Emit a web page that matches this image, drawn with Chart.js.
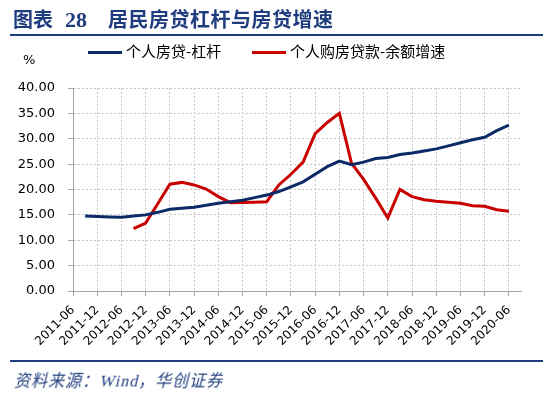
<!DOCTYPE html>
<html>
<head>
<meta charset="utf-8">
<script src="https://cdn.jsdelivr.net/npm/chart.js@4"></script>
<style>
    html, body { margin: 0; padding: 0; background: #fff; }
    #wrap { position: relative; width: 550px; height: 393px; overflow: hidden; }
    #chart { position: absolute; left: 0; top: 0; }
    .title { position: absolute; top: 4px; left: 13px; font: bold 20px "Noto Sans CJK SC"; color: #1f3c7e; white-space: nowrap; }
    .title .num { font-family: "Liberation Serif"; font-size: 22px; margin-left: 12px; }
    .title .txt { position: absolute; left: 95px; top: 0; letter-spacing: 0.5px; }
    .rule { position: absolute; left: 10px; width: 533px; height: 2px; background: #1f3c7e; }
    .legend { position: absolute; top: 40px; font: 15px "Noto Sans CJK SC"; color: #000; white-space: nowrap; }
    .legend i { display: inline-block; width: 34px; height: 3px; vertical-align: middle; margin-right: 4px; position: relative; top: 0; }
    .pct { position: absolute; left: 23px; top: 52px; font: 13px "DejaVu Sans"; color: #000; }
    .source { position: absolute; left: 13px; top: 367px; font: 16px "Liberation Serif", "Noto Sans CJK SC"; letter-spacing: 1px; color: #1f3c7e; transform: skewX(-14deg); transform-origin: left bottom; }
</style>
</head>
<body>
<div id="wrap">
    <canvas id="chart" width="550" height="393"></canvas>
    <div class="title">图表<span class="num">28</span><span class="txt">居民房贷杠杆与房贷增速</span></div>
    <div class="rule" style="top:34px"></div>
    <div class="legend" style="left:88px"><i style="background:#0b2a66"></i>个人房贷-杠杆</div>
    <div class="legend" style="left:252px"><i style="background:#c80000"></i>个人购房贷款-余额增速</div>
    <div class="pct">%</div>
    <div class="rule" style="top:360px"></div>
    <div class="source">资料来源：Wind，华创证券</div>
</div>
<script>
// quarterly categories, labelled every half year
const quarters = [
    '2011-06', '2011-09', '2011-12', '2012-03', '2012-06', '2012-09', '2012-12', '2013-03',
    '2013-06', '2013-09', '2013-12', '2014-03', '2014-06', '2014-09', '2014-12', '2015-03',
    '2015-06', '2015-09', '2015-12', '2016-03', '2016-06', '2016-09', '2016-12', '2017-03',
    '2017-06', '2017-09', '2017-12', '2018-03', '2018-06', '2018-09', '2018-12', '2019-03',
    '2019-06', '2019-09', '2019-12', '2020-03', '2020-06', '2020-09'
];
const lastLabelIndex = 36;

const leverage = [
    null, 14.8, 14.7, 14.6, 14.55, 14.8, 15.0, 15.5,
    16.1, 16.3, 16.5, 16.9, 17.3, 17.6, 17.9, 18.4,
    18.9, 19.6, 20.5, 21.5, 23.0, 24.5, 25.6, 24.9,
    25.4, 26.1, 26.3, 26.9, 27.2, 27.6, 28.0, 28.6,
    29.2, 29.8, 30.3, 31.6, 32.7, null
];

const loanGrowth = [
    null, null, null, null, null, 12.3, 13.4, 17.2,
    21.05, 21.4, 20.9, 20.1, 18.6, 17.4, 17.45, 17.5,
    17.6, 20.9, 23.0, 25.4, 31.0, 33.2, 35.0, 25.2,
    22.0, 18.3, 14.4, 20.0, 18.6, 18.0, 17.7, 17.5,
    17.3, 16.8, 16.7, 16.0, 15.7, null
];

const yTicks = [0, 5, 10, 15, 20, 25, 30, 35, 40];

const gridColor = '#c8c8c8';
const axisColor = '#a6a6a6';

function shownTick(i) {
    return i % 2 === 0 && i <= lastLabelIndex;
}

new Chart(document.getElementById('chart'), {
    type: 'line',
    data: {
        labels: quarters,
        datasets: [
            {
                label: '个人房贷-杠杆',
                data: leverage,
                borderColor: '#0b2a66',
                borderWidth: 3,
                pointRadius: 0,
                tension: 0
            },
            {
                label: '个人购房贷款-余额增速',
                data: loanGrowth,
                borderColor: '#c80000',
                borderWidth: 3,
                pointRadius: 0,
                tension: 0
            }
        ]
    },
    options: {
        responsive: false,
        devicePixelRatio: 1,
        animation: false,
        layout: { padding: { left: 0, right: 29, top: 88, bottom: 40 } },
        plugins: {
            legend: { display: false },
            tooltip: { enabled: false }
        },
        scales: {
            x: {
                offset: false,
                afterFit: (scale) => { scale.height = 62; },
                border: { color: axisColor, width: 1, dash: [2, 2] },
                grid: {
                    color: (ctx) => shownTick(ctx.index) ? gridColor : 'rgba(0,0,0,0)',
                    tickColor: (ctx) => shownTick(ctx.index) ? axisColor : 'rgba(0,0,0,0)',
                    tickBorderDash: [],
                    tickLength: 5
                },
                ticks: {
                    autoSkip: false,
                    maxRotation: 45,
                    minRotation: 45,
                    padding: 7,
                    color: '#000',
                    font: { family: 'DejaVu Sans', size: 12 },
                    callback: function (value, index) {
                        return shownTick(index) ? quarters[index] : '';
                    }
                }
            },
            y: {
                min: 0,
                max: 40,
                afterFit: (scale) => { scale.width = 73; },
                afterBuildTicks: (scale) => { scale.ticks = yTicks.map(v => ({ value: v })); },
                border: { color: axisColor, width: 1, dash: [2, 2] },
                grid: {
                    color: gridColor,
                    tickColor: axisColor,
                    tickBorderDash: [],
                    tickLength: 5
                },
                ticks: {
                    padding: 13,
                    color: '#000',
                    font: { family: 'DejaVu Sans', size: 13 },
                    callback: (v) => Number(v).toFixed(2)
                }
            }
        }
    }
});
</script>
</body>
</html>
